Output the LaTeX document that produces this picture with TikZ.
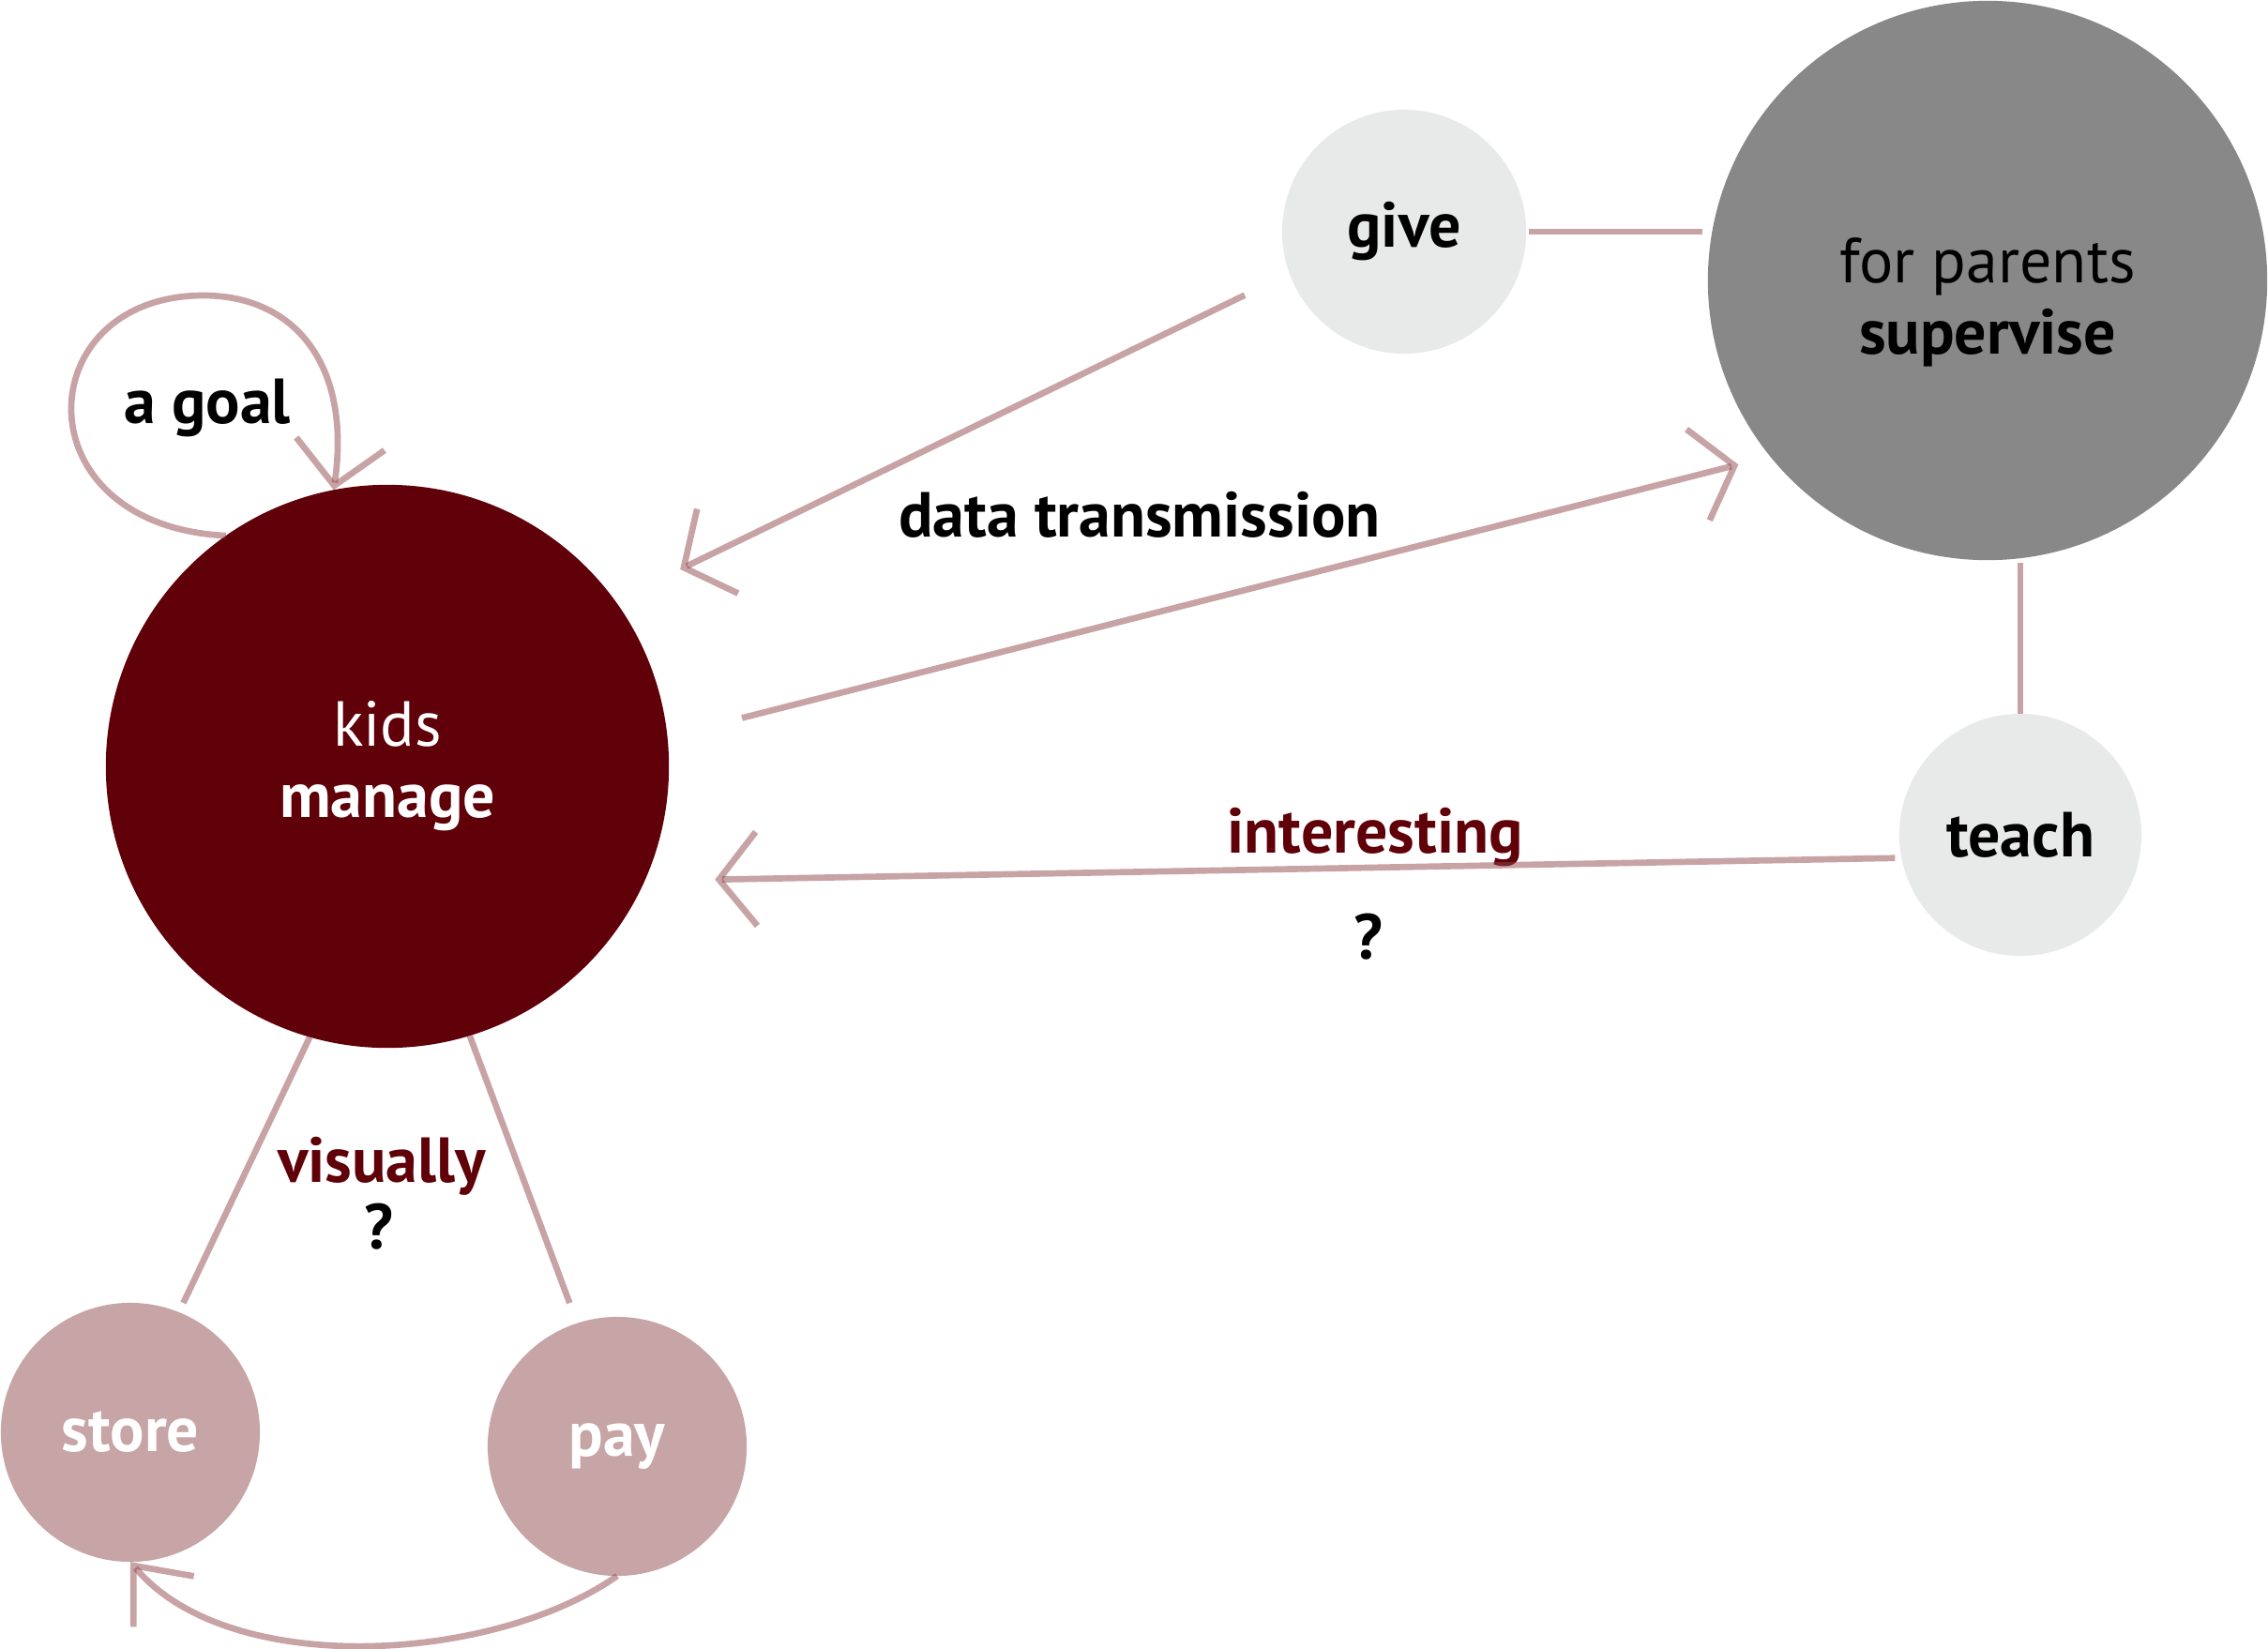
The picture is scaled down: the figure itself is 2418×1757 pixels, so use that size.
\documentclass[tikz,border=0pt]{standalone}
\usepackage{fontspec}
\setmainfont{PT Sans}
\usepackage{xcolor}
\usetikzlibrary{arrows.meta}

\definecolor{kidred}{RGB}{96,0,9}
\definecolor{linkpink}{RGB}{145,71,77}
\definecolor{storepink}{RGB}{199,164,166}
\definecolor{lightgrey}{RGB}{232,233,233}
\definecolor{midgrey}{RGB}{136,136,136}

\begin{document}
\begin{tikzpicture}[
    x=0.01cm, y=0.01cm,
    every node/.style={circle, inner sep=0pt, outer sep=0pt, align=center, font=\fontsize{19.3}{21.6}\selectfont},
    bubble/.style={circle, minimum size=#1},
    word/.style={rectangle, font=\fontsize{19.3}{21.6}\selectfont\bfseries},
    link/.style={draw=linkpink, draw opacity=0.5, line width=1.9pt},
    arr/.style={link, -{Straight Barb[length=0.4cm, width=1cm]}}
]
\useasboundingbox (0,0) rectangle (2418,-1757);

\node[bubble=6cm, fill=kidred, text=white] (kids) at (413,-817) {kids\\\textbf{manage}};
\node[bubble=2.6cm, fill=lightgrey] (give) at (1497,-247) {\textbf{give}};
\node[bubble=5.96cm, fill=midgrey,
    label={[rectangle, align=center, yshift=-0.23cm]center:for parents\\\textbf{supervise}}] (parents) at (2119,-299) {};
\node[bubble=2.58cm, fill=lightgrey] (teach) at (2154,-890) {\textbf{teach}};
\node[bubble=2.76cm, fill=storepink, text=white] (store) at (139,-1527) {\textbf{store}};
\node[bubble=2.76cm, fill=storepink, text=white] (pay) at (658,-1542) {\textbf{pay}};

\node[word] (goal) at (221,-435) {a goal};
\node[word] (data) at (1215,-549) {data transmission};
\node[word, text=kidred] (interest) at (1466,-893) {interesting};
\node[word] (q1) at (1459,-999) {?};
\node[word, text=kidred] (visual) at (407,-1243) {visually};
\node[word] (q2) at (404,-1308) {?};

\draw[link, shorten <=0.03cm, shorten >=0.06cm] (give.east) -- (give.east -| parents.west);
\draw[link, shorten >=0.03cm] (teach.north) -- (teach.north |- parents.south);
\draw[arr, shorten <=0.53cm, shorten >=0.77cm] (give.200) -- (kids.36);
\draw[arr, shorten <=0.82cm, shorten >=0.35cm] (kids.6) -- (parents.219);
\draw[arr, shorten <=0.07cm, shorten >=0.75cm] (teach.191) -- (kids.-24);
\draw[link, shorten >=0.11cm] (kids.254) -- (store.68);
\draw[link, shorten >=0.23cm] (kids.-73) -- (pay.108);

% loop back onto kids
\draw[link, -{Straight Barb[length=0.45cm, width=0.95cm]}] (kids.125) .. controls (20,-560) and (30,-315) .. (217,-315)
    .. controls (315,-315) and (375,-390) .. (kids.101);
\draw[link, -{Straight Barb[length=0.5cm, width=0.84cm]}] (pay.south) to[out=-145, in=-50, looseness=0.8] (store.south);
\end{tikzpicture}
\end{document}
